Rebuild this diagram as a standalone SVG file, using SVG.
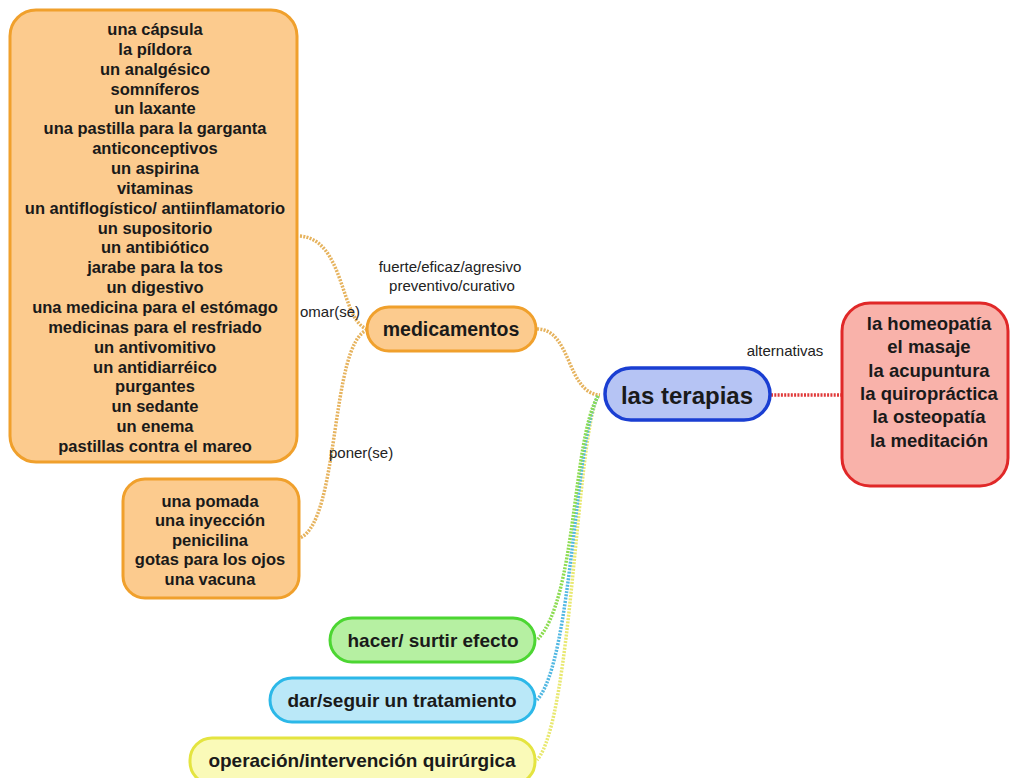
<svg xmlns="http://www.w3.org/2000/svg" width="1010" height="778" viewBox="0 0 1010 778">
<style>
.bg{fill:#ffffff}
.t{font-family:"Liberation Sans",Arial,sans-serif;font-weight:bold;fill:#1a1a1a;text-anchor:middle}
.lbl{font-family:"Liberation Sans",Arial,sans-serif;font-size:15px;fill:#222;}
.c{fill:none;stroke-width:3.5;stroke-dasharray:2 1.3}
.or{fill:#FCCB8E;stroke:#F0A02C;stroke-width:3}
</style>
<rect class="bg" x="0" y="0" width="1010" height="778"/>
<g id="connectors">
<path class="c" stroke="#E6B35E" d="M537,329 C572,329 566,393 600,395"/>
<path class="c" stroke="#E6B35E" d="M367,329 C340,320 345,238 299,236"/>
<path class="c" stroke="#E6B35E" d="M367,330 C330,345 340,520 300,538"/>
<path class="c" stroke="#E03A3A" d="M771,395 L841,395"/>
<path class="c" stroke="#E8E870" d="M598,396 C576,440 572,720 537,760"/>
<path class="c" stroke="#52B8E2" d="M598,396 C574,440 573,660 537,700"/>
<path class="c" stroke="#8CDC50" d="M598,396 C572,440 577,600 537,640"/>
</g>
<g id="labels">
<text class="lbl" x="450" y="272" text-anchor="middle">fuerte/eficaz/agresivo</text>
<text class="lbl" x="452" y="291" text-anchor="middle">preventivo/curativo</text>
<text class="lbl" x="300" y="317">omar(se)</text>
<text class="lbl" x="329" y="458">poner(se)</text>
<text class="lbl" x="785" y="356" text-anchor="middle">alternativas</text>
</g>
<g id="lista-tomar">
<rect class="or" x="10" y="10" width="287" height="452" rx="26"/>
<g class="t" font-size="16.5">
<text x="155" y="35">una cápsula</text>
<text x="155" y="54.9">la píldora</text>
<text x="155" y="74.7">un analgésico</text>
<text x="155" y="94.6">somníferos</text>
<text x="155" y="114.4">un laxante</text>
<text x="155" y="134.3">una pastilla para la garganta</text>
<text x="155" y="154.2">anticonceptivos</text>
<text x="155" y="174">un aspirina</text>
<text x="155" y="193.9">vitaminas</text>
<text x="155" y="213.7">un antiflogístico/ antiinflamatorio</text>
<text x="155" y="233.6">un supositorio</text>
<text x="155" y="253.4">un antibiótico</text>
<text x="155" y="273.3">jarabe para la tos</text>
<text x="155" y="293.2">un digestivo</text>
<text x="155" y="313">una medicina para el estómago</text>
<text x="155" y="332.9">medicinas para el resfriado</text>
<text x="155" y="352.7">un antivomitivo</text>
<text x="155" y="372.6">un antidiarréico</text>
<text x="155" y="392.4">purgantes</text>
<text x="155" y="412.3">un sedante</text>
<text x="155" y="432.2">un enema</text>
<text x="155" y="452">pastillas contra el mareo</text>
</g>
</g>
<g id="lista-poner">
<rect class="or" x="123" y="479" width="176" height="119" rx="22"/>
<g class="t" font-size="16.5">
<text x="210" y="506.5">una pomada</text>
<text x="210" y="526">una inyección</text>
<text x="210" y="545.6">penicilina</text>
<text x="210" y="565.2">gotas para los ojos</text>
<text x="210" y="584.8">una vacuna</text>
</g>
</g>
<g id="medicamentos">
<rect class="or" x="367" y="307" width="169" height="44" rx="22"/>
<text class="t" x="451" y="335.5" font-size="19.5">medicamentos</text>
</g>
<g id="las-terapias">
<rect x="605" y="368" width="165" height="52" rx="26" fill="#B6C4F4" stroke="#1A3ED2" stroke-width="3.5"/>
<text class="t" x="687" y="403.5" font-size="24">las terapias</text>
</g>
<g id="alternativas">
<rect x="842" y="303" width="166" height="183" rx="28" fill="#F9B2AA" stroke="#E02828" stroke-width="3"/>
<g class="t" font-size="18.5">
<text x="929" y="330">la homeopatía</text>
<text x="929" y="353.3">el masaje</text>
<text x="929" y="376.6">la acupuntura</text>
<text x="929" y="400">la quiropráctica</text>
<text x="929" y="423.3">la osteopatía</text>
<text x="929" y="446.6">la meditación</text>
</g>
</g>
<g id="efecto">
<rect x="330" y="618" width="205" height="44" rx="22" fill="#B6F0A2" stroke="#4CD632" stroke-width="3"/>
<text class="t" x="433" y="647" font-size="19">hacer/ surtir efecto</text>
</g>
<g id="tratamiento">
<rect x="270" y="678" width="265" height="44" rx="22" fill="#BAE8F8" stroke="#2CB8E8" stroke-width="3"/>
<text class="t" x="402" y="707" font-size="19">dar/seguir un tratamiento</text>
</g>
<g id="operacion">
<rect x="190" y="738" width="345" height="46" rx="22" fill="#FAFAB8" stroke="#E4E440" stroke-width="3"/>
<text class="t" x="362" y="767" font-size="19">operación/intervención quirúrgica</text>
</g>
</svg>
